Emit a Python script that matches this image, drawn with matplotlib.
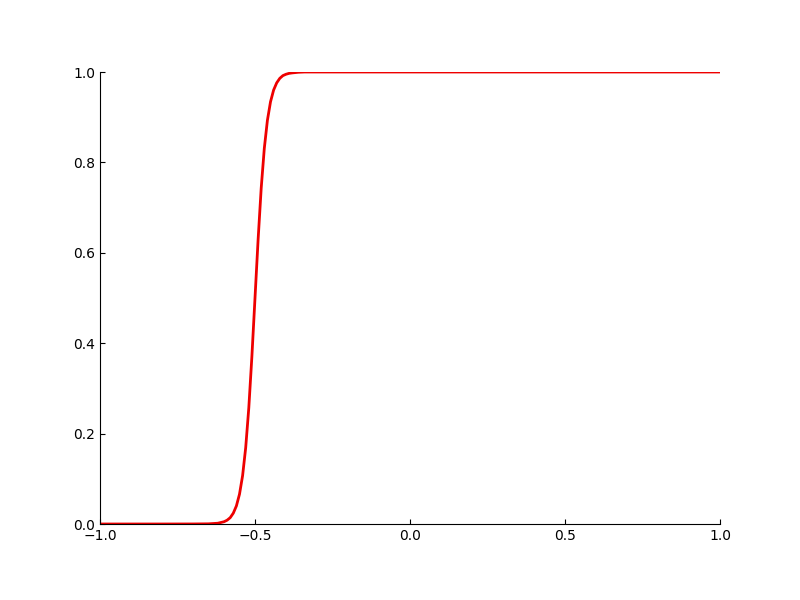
import matplotlib
matplotlib.use("Agg")
import matplotlib.pyplot as plt

x_vals = [-1.0, -0.8, -0.7, -0.65, -0.62, -0.60, -0.59, -0.58, -0.57, -0.56,
          -0.55, -0.54, -0.53, -0.52, -0.51, -0.50, -0.49, -0.48, -0.47, -0.46,
          -0.45, -0.44, -0.43, -0.42, -0.41, -0.40, -0.39, -0.38, -0.36, -0.34,
          -0.30, 0.0, 0.5, 1.0]
y_vals = [0.0, 0.0, 0.0001, 0.0004, 0.0017, 0.005, 0.0084, 0.014, 0.024, 0.040,
          0.066, 0.107, 0.169, 0.257, 0.371, 0.50, 0.629, 0.743, 0.831, 0.893,
          0.934, 0.960, 0.976, 0.986, 0.992, 0.995, 0.997, 0.998, 0.9994, 1.0,
          1.0, 1.0, 1.0, 1.0]

x_ticks = [-1.0, -0.5, 0.0, 0.5, 1.0]
y_ticks = [0.0, 0.2, 0.4, 0.6, 0.8, 1.0]

fig = plt.figure(figsize=(8, 6), dpi=100)
ax = fig.add_axes([0.125, 76/600, 0.775, 452/600])
ax.plot(x_vals, y_vals, color="#ee0000", linewidth=2)
ax.set_xlim(-1, 1)
ax.set_ylim(0, 1)
ax.set_xticks(x_ticks)
ax.set_yticks(y_ticks)
ax.spines["top"].set_visible(False)
ax.spines["right"].set_visible(False)
ax.tick_params(direction="in", top=False, right=False)
fig.savefig("out.png", dpi=100)
